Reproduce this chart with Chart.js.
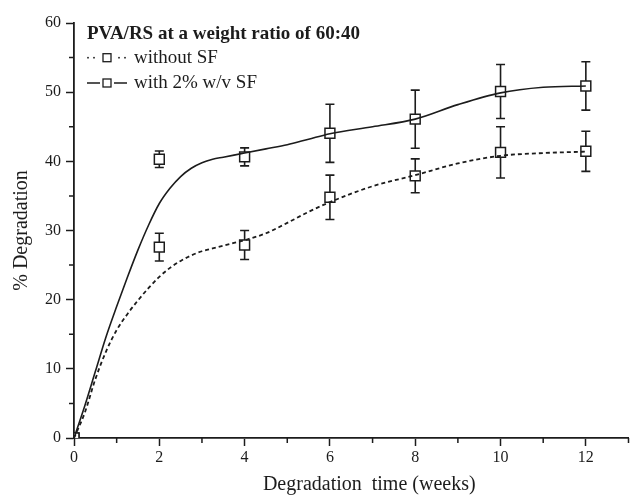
<!DOCTYPE html>
<html>
<head>
<meta charset="utf-8">
<script src="https://cdn.jsdelivr.net/npm/chart.js@4.4.1/dist/chart.umd.min.js"></script>
<style>
  body { margin: 0; background: #fff; }
  #wrap { width: 637px; height: 498px; }
</style>
</head>
<body>
<div id="wrap"><canvas id="chart" width="637" height="498"></canvas></div>
<script>
// measured points (mean and +/- error) per week
const weeks = [0, 2, 4, 6, 8, 10, 12];
const withoutSF = [0, 27.6, 27.9, 34.8, 37.9, 41.3, 41.45];
const withoutSFErr = [0, 2.0, 2.1, 3.2, 2.45, 3.7, 2.9];
const withSF = [0, 40.3, 40.65, 44.05, 46.1, 50.1, 50.9];
const withSFErr = [0, 1.2, 1.3, 4.2, 4.2, 3.9, 3.5];

// fitted curves
const fitWeeks = [0, 0.25, 0.5, 0.75, 1, 1.25, 1.5, 1.75, 2, 2.25, 2.5, 2.75, 3, 3.25, 3.5, 3.75, 4, 4.5, 5, 5.5, 6, 7, 8, 9, 10, 11, 12];
const fitWithoutSF = [0, 3.6, 8.5, 12.5, 15.6, 17.9, 19.9, 21.7, 23.3, 24.6, 25.6, 26.4, 27.0, 27.4, 27.8, 28.2, 28.6, 29.6, 31.1, 32.7, 34.1, 36.4, 38.0, 39.7, 40.8, 41.2, 41.4];
const fitWithSF = [0, 4.6, 9.6, 14.6, 19.0, 23.2, 27.2, 30.8, 33.9, 36.1, 37.8, 39.0, 39.8, 40.3, 40.6, 40.9, 41.2, 41.8, 42.4, 43.2, 44.0, 45.0, 46.1, 48.2, 49.9, 50.7, 50.9];

const legendTitle = 'PVA/RS at a weight ratio of 60:40';
const seriesLabels = ['without SF', 'with 2% w/v SF'];
const xTitle = 'Degradation  time (weeks)';
const yTitle = '% Degradation';

const ink = '#1c1c1c';
const serif = '"Liberation Serif", "Times New Roman", serif';

function pairs(xs, ys) {
      return xs.map((x, i) => ({ x: x, y: ys[i] }));
}

// error bars drawn under the squares
const errorBarPlugin = {
      id: 'errorBars',
      beforeDatasetsDraw(chart) {
            const ctx = chart.ctx;
            const xs = chart.scales.x;
            const ys = chart.scales.y;
            ctx.save();
            ctx.strokeStyle = ink;
            ctx.lineWidth = 1.6;
            chart.data.datasets.forEach(ds => {
                  if (!ds.errors) return;
                  ds.data.forEach((p, i) => {
                        const e = ds.errors[i];
                        if (!e) return;
                        const px = xs.getPixelForValue(p.x);
                        const top = ys.getPixelForValue(p.y + e);
                        const bot = ys.getPixelForValue(p.y - e);
                        ctx.beginPath();
                        ctx.moveTo(px, top); ctx.lineTo(px, bot);
                        ctx.moveTo(px - 4.5, top); ctx.lineTo(px + 4.5, top);
                        ctx.moveTo(px - 4.5, bot); ctx.lineTo(px + 4.5, bot);
                        ctx.stroke();
                  });
            });
            ctx.restore();
      }
};

// minor ticks (odd weeks, every 5 %) are shorter than the major ones
const minorTickPlugin = {
      id: 'minorTicks',
      afterDraw(chart) {
            const ctx = chart.ctx;
            const xs = chart.scales.x;
            const ys = chart.scales.y;
            ctx.save();
            ctx.strokeStyle = ink;
            ctx.lineWidth = 1.5;
            ctx.beginPath();
            xs.ticks.forEach(t => {
                  if (t.value % 2 === 0) return;
                  const px = xs.getPixelForValue(t.value);
                  ctx.moveTo(px, xs.top); ctx.lineTo(px, xs.top + 5);
            });
            ys.ticks.forEach(t => {
                  if (t.value % 10 === 0) return;
                  const py = ys.getPixelForValue(t.value);
                  ctx.moveTo(ys.right, py); ctx.lineTo(ys.right - 5, py);
            });
            ctx.stroke();
            ctx.restore();
      }
};

// legend inside the plot and the x axis title (sits right of centre in the original)
const legendPlugin = {
      id: 'sketchLegend',
      afterDraw(chart) {
            const ctx = chart.ctx;
            const area = chart.chartArea;
            const x0 = area.left + 13;
            ctx.save();
            ctx.fillStyle = ink;
            ctx.strokeStyle = ink;
            ctx.textBaseline = 'alphabetic';
            ctx.font = 'bold 19px ' + serif;
            ctx.fillText(legendTitle, x0, 39);

            ctx.font = '19px ' + serif;
            const rows = [{ y: 57.7, base: 62.5 }, { y: 83, base: 88 }];
            rows.forEach((r, i) => {
                  ctx.lineWidth = 1.6;
                  if (i === 0) {
                        [1, 7, 32, 38].forEach(dx => ctx.fillRect(x0 + dx - 0.8, r.y - 0.8, 1.6, 1.6));
                  } else {
                        ctx.beginPath();
                        ctx.moveTo(x0, r.y); ctx.lineTo(x0 + 13, r.y);
                        ctx.moveTo(x0 + 27, r.y); ctx.lineTo(x0 + 40, r.y);
                        ctx.stroke();
                  }
                  ctx.lineWidth = 1.3;
                  ctx.strokeRect(x0 + 16, r.y - 4, 8, 8);
                  ctx.fillText(seriesLabels[i], x0 + 47, r.base);
            });

            ctx.font = '20px ' + serif;
            ctx.textAlign = 'center';
            ctx.textBaseline = 'middle';
            ctx.fillText(xTitle, (area.left + area.right) / 2 + 18, 485);
            ctx.restore();
      }
};

new Chart(document.getElementById('chart'), {
      type: 'scatter',
      data: {
            datasets: [
                  {
                        type: 'line',
                        data: pairs(fitWeeks, fitWithSF),
                        borderColor: ink,
                        borderWidth: 1.6,
                        pointRadius: 0,
                        fill: false,
                        cubicInterpolationMode: 'monotone'
                  },
                  {
                        type: 'line',
                        data: pairs(fitWeeks, fitWithoutSF),
                        borderColor: ink,
                        borderWidth: 1.8,
                        borderDash: [4, 3],
                        pointRadius: 0,
                        fill: false,
                        cubicInterpolationMode: 'monotone'
                  },
                  {
                        label: seriesLabels[1],
                        data: pairs(weeks, withSF),
                        errors: withSFErr,
                        pointStyle: 'rect',
                        pointRadius: 7,
                        pointBackgroundColor: '#fff',
                        pointBorderColor: ink,
                        pointBorderWidth: 1.5
                  },
                  {
                        label: seriesLabels[0],
                        data: pairs(weeks, withoutSF),
                        errors: withoutSFErr,
                        pointStyle: 'rect',
                        pointRadius: 7,
                        pointBackgroundColor: '#fff',
                        pointBorderColor: ink,
                        pointBorderWidth: 1.5
                  }
            ]
      },
      options: {
            responsive: false,
            animation: false,
            layout: { padding: { top: 23, right: 0, left: 0, bottom: 0 } },
            scales: {
                  x: {
                        type: 'linear',
                        min: 0,
                        max: 13,
                        afterFit: s => { s.height = 60; },
                        ticks: {
                              stepSize: 1,
                              autoSkip: false,
                              maxRotation: 0,
                              includeBounds: false,
                              padding: 2,
                              color: ink,
                              font: { family: serif, size: 16 },
                              callback: v => (v % 2 === 0 ? v : '')
                        },
                        grid: {
                              drawOnChartArea: false,
                              tickLength: 8,
                              tickWidth: 1.5,
                              tickColor: c => (c.tick && c.tick.value % 2 === 0 ? ink : 'rgba(0,0,0,0)')
                        },
                        border: { color: ink, width: 1.8 }
                  },
                  y: {
                        min: 0,
                        max: 60,
                        afterFit: s => { s.width = 74; },
                        ticks: {
                              stepSize: 5,
                              autoSkip: false,
                              padding: 5,
                              color: ink,
                              font: { family: serif, size: 16 },
                              callback: v => (v % 10 === 0 ? v : '')
                        },
                        grid: {
                              drawOnChartArea: false,
                              tickLength: 8,
                              tickWidth: 1.5,
                              tickColor: c => (c.tick && c.tick.value % 10 === 0 ? ink : 'rgba(0,0,0,0)')
                        },
                        border: { color: ink, width: 1.8 },
                        title: {
                              display: true,
                              text: yTitle,
                              color: ink,
                              font: { family: serif, size: 20 },
                              padding: { top: 10, bottom: 0 }
                        }
                  }
            },
            plugins: {
                  legend: { display: false },
                  tooltip: { enabled: false }
            }
      },
      plugins: [errorBarPlugin, minorTickPlugin, legendPlugin]
});
</script>
</body>
</html>
